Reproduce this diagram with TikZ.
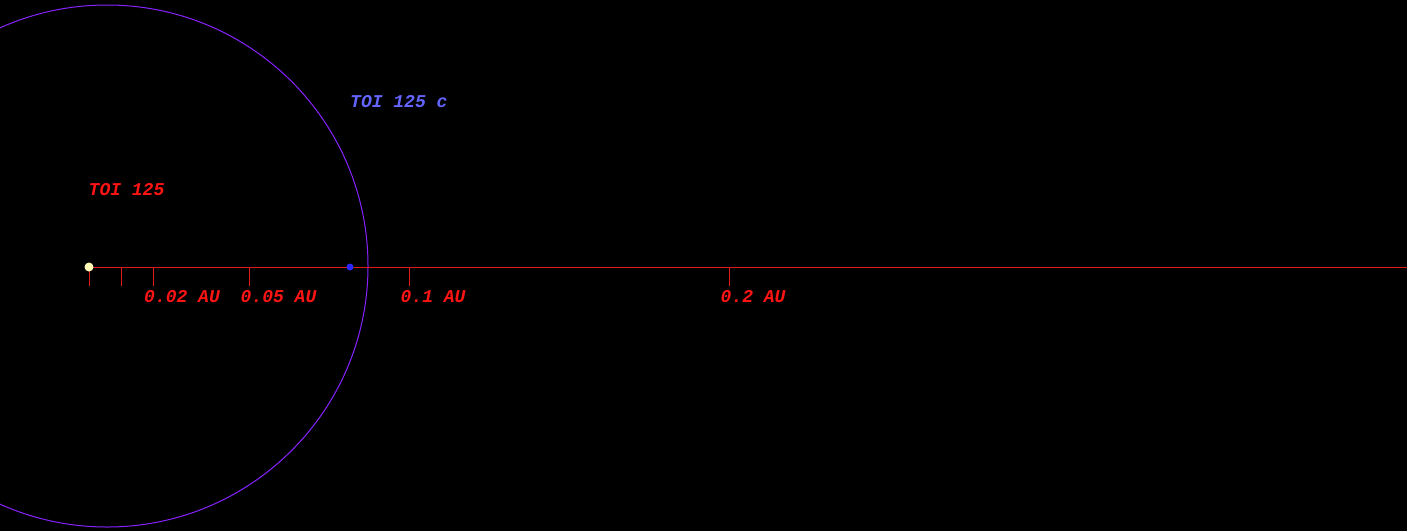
\documentclass[tikz,border=0pt]{standalone}
\usepackage{fontspec}
\setmonofont{Liberation Mono}
\definecolor{axisred}{RGB}{225,25,25}
\definecolor{orbitpurple}{RGB}{136,34,255}
\definecolor{starcol}{RGB}{255,250,180}
\definecolor{planetcol}{RGB}{40,40,255}
\definecolor{planetlbl}{RGB}{100,100,255}
\definecolor{lblred}{RGB}{255,20,20}
\begin{document}
\begin{tikzpicture}[x=1pt,y=-1pt,
  lbl/.style={font=\fontsize{18}{18}\selectfont\ttfamily\bfseries\itshape, inner sep=0pt, anchor=base west},
  axisline/.style={draw=axisred, line width=0.8pt},
  tick/.style={draw=axisred, line width=0.8pt}]
\fill[black] (0,0) rectangle (1407,531);
\useasboundingbox (0,0) rectangle (1407,531);
% orbit
\draw[orbitpurple, line width=1pt] (107,266) circle (261);
% axis
\coordinate (a0) at (89,267.3);
\coordinate (aend) at (1407,267.3);
\draw[axisline] (a0) -- (aend);
\foreach \x/\n in {89/t0,121/t1,153/t2,249/t5,409/t10,729/t20}{
  \coordinate (\n) at (\x,267.3);
  \coordinate (\n b) at (\x,285.5);
  \draw[tick] (\n) -- (\n b);
}
% star and planet
\node[circle, fill=starcol, minimum size=9pt, inner sep=0pt] (star) at (89,267) {};
\node[circle, fill=planetcol, minimum size=7pt, inner sep=0pt] (planet) at (350,267) {};
% labels
\node[lbl, text=lblred] (l2) at (144,302.8) {0.02 AU};
\node[lbl, text=lblred] (l5) at (240.5,302.8) {0.05 AU};
\node[lbl, text=lblred] (l10) at (400.5,302.8) {0.1 AU};
\node[lbl, text=lblred] (l20) at (720.5,302.8) {0.2 AU};
\node[lbl, text=lblred] (starlbl) at (88.5,195.5) {TOI 125};
\node[lbl, text=planetlbl] (planetlbl) at (350,107.3) {TOI 125 c};
\end{tikzpicture}
\end{document}
